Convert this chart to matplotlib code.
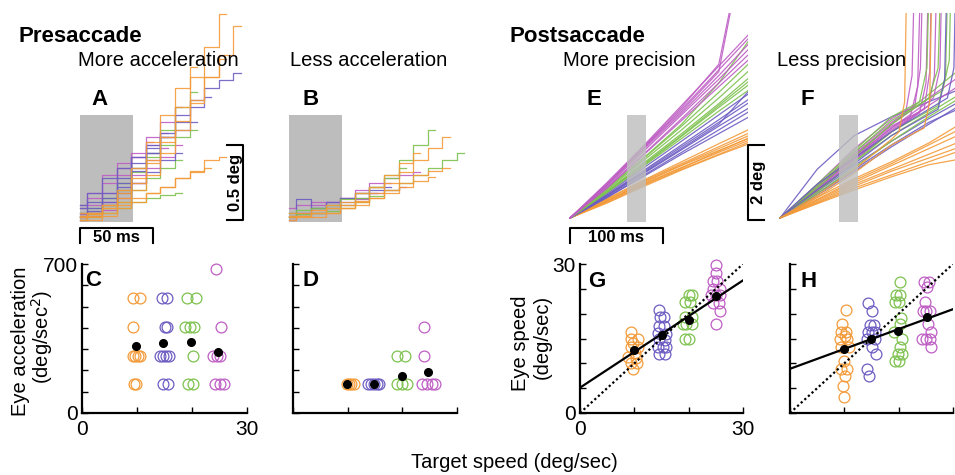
import matplotlib
matplotlib.use("Agg")
import matplotlib.pyplot as plt
from matplotlib.patches import Rectangle

plt.rcParams['font.family'] = ['Liberation Sans', 'DejaVu Sans']

ORANGE = '#F39B3A'
BLUE = '#6D5DC2'
GREEN = '#7DC14E'
PURPLE = '#BE5EC4'
COLS = [ORANGE, BLUE, GREEN, PURPLE]

# ---------------- eye position traces (deg) ----------------
# presaccade traces, one value every 10 ms from target motion onset
A_DT = 10
A_ORANGE = [
    [0.02, 0.03, 0.08, 0.15, 0.25, 0.38, 0.55, 0.75, 0.95, 1.15, 1.37],
    [0.00, 0.02, 0.05, 0.12, 0.20, 0.30, 0.45, 0.60, 0.78, 0.95, 1.10, 1.29],
    [0.05, 0.05, 0.10, 0.18, 0.28, 0.40, 0.52, 0.66, 0.80, 0.95, 1.07],
    [0.00, 0.00, 0.03, 0.08, 0.12, 0.18, 0.22, 0.28, 0.33, 0.40, 0.42],
    [0.03, 0.05, 0.08, 0.10, 0.15, 0.18, 0.22, 0.28, 0.32, 0.35],
    [0.02, 0.04, 0.10, 0.20, 0.35, 0.52, 0.70, 0.88, 1.02],
]
A_BLUE = [
    [0.05, 0.08, 0.15, 0.25, 0.35, 0.45, 0.58, 0.70, 0.80, 0.88, 0.93, 0.98],
    [0.02, 0.06, 0.12, 0.22, 0.33, 0.45, 0.55, 0.65, 0.75, 0.82],
    [0.08, 0.12, 0.18, 0.28, 0.38, 0.48, 0.55, 0.60, 0.65],
    [0.03, 0.05, 0.10, 0.18, 0.25, 0.32, 0.40, 0.45],
    [0.10, 0.18, 0.28, 0.35, 0.42, 0.50, 0.55],
]
A_GREEN = [
    [0.02, 0.04, 0.10, 0.20, 0.32, 0.45, 0.60, 0.75, 0.85],
    [0.00, 0.02, 0.05, 0.08, 0.12, 0.15, 0.17, 0.18],
    [0.05, 0.08, 0.15, 0.25, 0.35, 0.42, 0.50, 0.55, 0.60],
    [0.03, 0.05, 0.08, 0.12, 0.20, 0.28, 0.35, 0.40],
]
A_PURPLE = [
    [0.08, 0.15, 0.25, 0.35, 0.42, 0.50, 0.58],
    [0.04, 0.10, 0.18, 0.30, 0.42, 0.55, 0.65, 0.75],
    [0.02, 0.05, 0.12, 0.20, 0.30, 0.40, 0.48],
    [0.10, 0.18, 0.30, 0.38, 0.45, 0.52],
    [0.00, 0.03, 0.07, 0.15, 0.25, 0.35, 0.42, 0.50],
]

B_ORANGE = [
    [0.03, 0.03, 0.05, 0.05, 0.08, 0.12, 0.18, 0.25, 0.32, 0.40, 0.48, 0.55],
    [0.00, 0.02, 0.02, 0.05, 0.08, 0.10, 0.15, 0.18, 0.22, 0.26, 0.29],
    [0.05, 0.05, 0.07, 0.10, 0.12, 0.18, 0.22, 0.30, 0.38, 0.45],
    [0.02, 0.03, 0.05, 0.08, 0.10, 0.13, 0.15, 0.20, 0.25, 0.30, 0.33, 0.35],
]
B_BLUE = [
    [0.05, 0.14, 0.08, 0.12, 0.15, 0.18, 0.20, 0.22],
    [0.02, 0.05, 0.08, 0.10, 0.12, 0.15, 0.18],
]
B_GREEN = [
    [0.02, 0.04, 0.05, 0.08, 0.10, 0.15, 0.22, 0.30, 0.40, 0.50, 0.60],
    [0.03, 0.03, 0.05, 0.06, 0.08, 0.12, 0.16, 0.20, 0.25, 0.30, 0.35, 0.40, 0.45],
    [0.05, 0.07, 0.08, 0.10, 0.14, 0.18, 0.22, 0.28, 0.35],
]
B_PURPLE = [
    [0.03, 0.05, 0.10, 0.12, 0.15, 0.20, 0.25, 0.28, 0.30, 0.32],
    [0.08, 0.10, 0.12, 0.12, 0.15, 0.18, 0.22, 0.25],
    [0.00, 0.03, 0.05, 0.08, 0.10, 0.14, 0.18, 0.20, 0.22],
]

# postsaccade traces, values at E_T (ms)
E_T = [0, 40, 80, 120, 160, 200]
E_ORANGE = [
    [0, 0.45, 0.95, 1.40, 1.80, 2.20],
    [0, 0.50, 1.00, 1.45, 1.90, 2.35],
    [0, 0.42, 0.88, 1.30, 1.70, 2.10],
    [0, 0.48, 0.92, 1.35, 1.75, 2.15],
    [0, 0.52, 1.02, 1.50, 1.98, 2.45],
    [0, 0.40, 0.85, 1.28, 1.68, 2.05],
    [0, 0.46, 0.97, 1.42, 1.85, 2.28],
    [0, 0.44, 0.90, 1.33, 1.78, 2.22],
]
E_BLUE = [
    [0, 0.55, 1.15, 1.75, 2.35, 2.95],
    [0, 0.60, 1.25, 1.90, 2.55, 3.20],
    [0, 0.58, 1.20, 1.82, 2.45, 3.05],
    [0, 0.65, 1.35, 2.05, 2.75, 3.45],
    [0, 0.55, 1.12, 1.70, 2.25, 2.80],
    [0, 0.62, 1.28, 1.95, 2.62, 3.30],
    [0, 0.60, 1.22, 1.85, 2.50, 3.60],
]
E_GREEN = [
    [0, 0.70, 1.45, 2.20, 3.00, 3.80],
    [0, 0.75, 1.55, 2.35, 3.20, 4.10],
    [0, 0.68, 1.40, 2.12, 2.85, 3.55],
    [0, 0.78, 1.60, 2.45, 3.35, 4.30],
    [0, 0.72, 1.48, 2.25, 3.05, 3.90],
    [0, 0.70, 1.42, 2.18, 2.95, 3.70],
    [0, 0.80, 1.62, 2.50, 3.60, 5.00],
]
E_PURPLE = [
    [0, 0.85, 1.80, 2.75, 3.70, 4.70],
    [0, 0.90, 1.90, 2.90, 3.95, 5.00],
    [0, 0.80, 1.70, 2.60, 3.50, 4.40],
    [0, 0.95, 1.95, 3.00, 4.05, 5.10],
    [0, 0.88, 1.85, 2.80, 3.80, 4.85],
    [0, 0.82, 1.72, 2.65, 3.60, 4.55],
    [0, 0.90, 1.88, 2.85, 3.90, 9.00],
    [0, 0.92, 1.92, 2.95, 4.10, 9.00],
]

F_T = [0, 40, 80, 120, 160, 200]
F_ORANGE = [
    [0, 0.40, 0.80, 1.15, 1.50, 1.85],
    [0, 0.45, 0.90, 1.30, 1.70, 2.10],
    [0, 0.38, 0.75, 1.10, 1.42, 1.60],
    [0, 0.50, 1.00, 1.45, 1.95, 2.45],
    [0, 0.55, 1.05, 1.50, 2.00, 2.60],
    [0, 0.42, 0.85, 1.25, 1.60, 1.95],
    [0, 0.48, 0.95, 1.40, 1.85, 2.30],
]
F_BLUE = [
    [0, 1.30, 2.20, 2.70, 3.10, 3.50],
    [0, 0.60, 1.25, 1.90, 2.50, 3.10],
    [0, 0.70, 1.40, 2.05, 2.65, 3.20],
    [0, 0.65, 1.30, 1.95, 2.55, 3.00],
]
F_GREEN = [
    [0, 0.75, 1.50, 2.20, 2.80, 3.40],
    [0, 0.65, 1.35, 2.05, 2.70, 3.30],
    [0, 0.80, 1.65, 2.50, 3.30, 4.10],
]
F_PURPLE = [
    [0, 0.80, 1.70, 2.50, 3.20, 3.90],
    [0, 0.70, 1.55, 2.30, 3.00, 3.65],
]
# traces that end in a catch-up saccade: (colour, times, values)
F_SACC = [
    (PURPLE, [0, 40, 80, 120, 140, 148, 154], [0, 0.75, 1.65, 2.40, 2.70, 3.50, 9]),
    (PURPLE, [0, 40, 80, 120, 135, 142, 147], [0, 0.85, 1.75, 2.55, 2.80, 3.80, 9]),
    (PURPLE, [0, 40, 80, 120, 150, 157, 162], [0, 0.70, 1.55, 2.30, 2.80, 3.60, 9]),
    (PURPLE, [0, 40, 80, 120, 145, 151, 156], [0, 0.90, 1.85, 2.65, 3.00, 4.00, 9]),
    (PURPLE, [0, 40, 80, 120, 160, 166, 171], [0, 0.75, 1.60, 2.35, 3.00, 3.80, 9]),
    (PURPLE, [0, 40, 80, 120, 155, 161, 165], [0, 0.80, 1.70, 2.45, 2.90, 3.90, 9]),
    (PURPLE, [0, 40, 80, 120, 165, 172, 176], [0, 0.78, 1.62, 2.40, 3.20, 4.00, 9]),
    (GREEN, [0, 40, 80, 120, 160, 170, 176], [0, 0.80, 1.65, 2.50, 3.20, 4.00, 9]),
    (GREEN, [0, 40, 80, 120, 170, 178, 183], [0, 0.70, 1.50, 2.30, 3.00, 3.80, 9]),
    (GREEN, [0, 40, 80, 120, 175, 182, 186], [0, 0.85, 1.75, 2.60, 3.40, 4.20, 9]),
    (GREEN, [0, 40, 80, 120, 150, 158, 163], [0, 0.90, 1.80, 2.70, 3.10, 4.00, 9]),
    (BLUE, [0, 40, 80, 120, 180, 187, 191], [0, 0.90, 1.60, 2.30, 3.20, 4.00, 9]),
    (BLUE, [0, 40, 80, 120, 170, 177, 182], [0, 0.75, 1.45, 2.20, 2.90, 3.70, 9]),
    (ORANGE, [0, 40, 80, 120, 128, 134, 138], [0, 0.60, 1.30, 2.10, 2.30, 3.10, 9]),
    (ORANGE, [0, 40, 80, 120, 155, 161, 165], [0, 0.55, 1.20, 1.95, 2.40, 3.10, 9]),
]

# analysis windows (ms)
PRE_WIN = (0, 36)
POST_WIN_E = (61, 82)
POST_WIN_F = (63, 84)

# ---------------- scatter data ----------------
# C: eye acceleration (deg/sec^2) vs target speed (deg/sec)
C_X = [[9.3, 10.5, 9.3, 9.2, 9.7, 10.2, 10.6, 9.5, 9.9],
       [14.6, 15.4, 15.1, 15.4, 14.2, 14.8, 15.3, 15.9, 14.8, 15.7],
       [19.0, 20.7, 18.7, 19.6, 20.4, 20.1, 19.3, 20.2],
       [24.4, 25.2, 23.9, 24.5, 25.0, 24.2, 25.1, 25.8]]
C_Y = [[540, 540, 405, 270, 270, 270, 270, 135, 135],
       [540, 540, 405, 405, 270, 270, 270, 270, 135, 135],
       [540, 540, 405, 405, 405, 270, 135, 135],
       [675, 405, 270, 270, 270, 135, 135, 135]]
C_MEAN_X = [9.9, 14.8, 19.9, 24.7]
C_MEAN_Y = [315, 327, 332, 285]

D_X = [[9.8, 10.2, 10.6, 11.1],
       [13.8, 14.3, 14.8, 15.3, 15.8],
       [19.0, 20.5, 19.0, 19.9, 20.9],
       [24.0, 24.0, 23.6, 24.5, 25.4, 26.0]]
D_Y = [[135, 135, 135, 135],
       [135, 135, 135, 135, 135],
       [270, 270, 135, 135, 135],
       [405, 270, 135, 135, 135, 135]]
D_MEAN_X = [9.9, 14.8, 19.9, 24.7]
D_MEAN_Y = [135, 135, 174, 193]

# G / H: eye speed (deg/sec) vs target speed (deg/sec)
G_X = [[9.3, 9.3, 10.6, 9.3, 10.6, 10.1, 8.8, 9.4, 10.5, 9.8, 10.3, 9.8],
       [14.6, 14.8, 15.5, 14.6, 15.4, 14.3, 15.8, 14.6, 15.6, 14.3, 15.2, 15.9, 14.6, 15.6],
       [20.0, 20.7, 19.4, 20.2, 19.3, 20.7, 19.0, 19.6, 20.6, 19.4, 20.1],
       [25.0, 25.0, 24.4, 25.3, 24.5, 25.7, 24.2, 25.0, 25.8, 24.5, 25.6, 25.8, 25.0]]
G_Y = [[16.3, 14.8, 14.8, 13.3, 13.3, 12.0, 11.3, 10.1, 10.1, 8.9, 11.0, 14.0],
       [20.7, 19.4, 19.4, 17.6, 17.6, 16.2, 16.0, 14.8, 14.6, 13.3, 13.3, 13.3, 11.8, 11.8],
       [23.7, 23.7, 22.3, 22.3, 19.4, 19.4, 17.9, 17.9, 17.9, 14.8, 14.8],
       [29.7, 28.2, 26.6, 26.6, 24.9, 24.9, 23.7, 23.7, 23.7, 22.1, 22.1, 20.5, 17.9]]
G_MEAN_X = [10, 15, 20, 25]
G_MEAN_Y = [12.6, 15.7, 18.8, 23.6]
G_FIT = (5.1, 0.72)   # intercept, slope

H_X = [[10.3, 9.5, 9.4, 10.3, 9.2, 10.5, 9.3, 10.8, 10.0, 9.4, 10.5, 10.1, 9.7, 10.0, 10.2],
       [14.4, 15.0, 14.7, 15.5, 14.3, 15.0, 15.7, 14.2, 15.6, 15.0, 15.8, 14.2, 14.6],
       [20.3, 19.6, 20.3, 19.3, 20.0, 20.5, 20.3, 19.2, 20.7, 20.2, 19.8, 20.6, 19.3, 20.0],
       [24.6, 25.5, 25.2, 24.9, 24.4, 25.1, 25.7, 25.4, 25.9, 24.3, 25.0, 25.7, 25.9]]
H_Y = [[20.7, 17.9, 16.3, 16.3, 14.8, 14.8, 13.3, 13.3, 10.4, 8.9, 8.9, 7.4, 5.4, 3.3, 15.6],
       [22.1, 20.5, 17.8, 17.8, 16.3, 16.3, 16.3, 14.8, 14.8, 13.3, 11.8, 8.9, 7.4],
       [26.4, 23.7, 23.7, 22.3, 22.3, 19.2, 17.9, 16.3, 14.8, 13.3, 11.8, 11.8, 10.4, 10.4],
       [26.4, 26.4, 25.3, 22.3, 20.5, 20.5, 20.5, 17.9, 16.3, 14.8, 14.8, 14.8, 13.3]]
H_MEAN_X = [10, 14.9, 19.95, 25.2]
H_MEAN_Y = [12.9, 14.9, 16.5, 19.4]
H_FIT = (8.9, 0.40)

# ---------------- layout helpers (pixels) ----------------
W, H = 955, 475
fig = plt.figure(figsize=(W / 100, H / 100), dpi=100)


def px_axes(left, top, right, bottom):
    return fig.add_axes([left / W, 1 - bottom / H, (right - left) / W, (bottom - top) / H])


def trace_axes(left, top, right, bottom, x0, y0, sx, sy):
    # x0, y0: pixel of (t=0, pos=0); sx px per ms, sy px per deg
    ax = px_axes(left, top, right, bottom)
    ax.set_xlim((left - x0) / sx, (right - x0) / sx)
    ax.set_ylim((y0 - bottom) / sy, (y0 - top) / sy)
    ax.axis('off')
    return ax


def ftext(x, y, s, **kw):
    fig.text(x / W, 1 - y / H, s, **kw)


LW = 0.9
AL = 0.9


def draw_steps(ax, groups):
    for col, traces in groups:
        for tr in traces:
            t = [i * A_DT for i in range(len(tr))]
            ax.plot(t, tr, color=col, lw=LW, alpha=AL, drawstyle='steps-mid', zorder=2)


def draw_lines(ax, times, groups):
    for col, traces in groups:
        for tr in traces:
            ax.plot(times, tr, color=col, lw=LW, alpha=AL, zorder=2)


# ---- A ----
axA = trace_axes(70, 5, 262, 250, 80, 220, 1.46, 150)
axA.add_patch(Rectangle((PRE_WIN[0], -0.013), PRE_WIN[1] - PRE_WIN[0], 0.713,
                        color='#BDBDBD', lw=0, zorder=1))
draw_steps(axA, [(PURPLE, A_PURPLE), (GREEN, A_GREEN), (BLUE, A_BLUE), (ORANGE, A_ORANGE)])
axA.plot([0, 0, 50, 50], [-0.153, -0.053, -0.053, -0.153], color='k', lw=1.5, clip_on=False)
axA.text(25, -0.147, '50 ms', ha='center', va='baseline', fontsize=12, fontweight='bold')
axA.plot([100.7, 111.6, 111.6, 100.7], [0.5, 0.5, 0, 0], color='k', lw=1.5, clip_on=False)
axA.text(106.5, 0.25, '0.5 deg', rotation=90, ha='center', va='center', fontsize=12,
         fontweight='bold')

# ---- B ----
axB = trace_axes(279, 5, 480, 250, 289, 220, 1.46, 150)
axB.add_patch(Rectangle((PRE_WIN[0], -0.013), PRE_WIN[1] - PRE_WIN[0], 0.713,
                        color='#BDBDBD', lw=0, zorder=1))
draw_steps(axB, [(PURPLE, B_PURPLE), (BLUE, B_BLUE), (GREEN, B_GREEN), (ORANGE, B_ORANGE)])

# ---- E ----
axE = trace_axes(560, 13, 748, 250, 570, 218, 0.93, 37.5)
draw_lines(axE, E_T, [(ORANGE, E_ORANGE), (BLUE, E_BLUE), (GREEN, E_GREEN), (PURPLE, E_PURPLE)])
axE.add_patch(Rectangle((POST_WIN_E[0], -0.107), POST_WIN_E[1] - POST_WIN_E[0], 2.85,
                        color='#BDBDBD', alpha=0.8, lw=0, zorder=3))
axE.plot([0, 0, 100, 100], [-0.667, -0.267, -0.267, -0.667], color='k', lw=1.5, clip_on=False)
axE.text(50, -0.64, '100 ms', ha='center', va='baseline', fontsize=12, fontweight='bold')
axE.plot([208.6, 191.4, 191.4, 208.6], [1.95, 1.95, -0.05, -0.05], color='k', lw=1.5,
         clip_on=False)
axE.text(203, 0.96, '2 deg', rotation=90, ha='center', va='center', fontsize=12,
         fontweight='bold', clip_on=False)

# ---- F ----
axF = trace_axes(770, 13, 955, 250, 780, 218, 0.93, 37.5)
draw_lines(axF, F_T, [(ORANGE, F_ORANGE), (BLUE, F_BLUE), (GREEN, F_GREEN), (PURPLE, F_PURPLE)])
for col, tt, vv in F_SACC:
    axF.plot(tt, vv, color=col, lw=LW, alpha=AL, zorder=2)
axF.add_patch(Rectangle((POST_WIN_F[0], -0.107), POST_WIN_F[1] - POST_WIN_F[0], 2.85,
                        color='#BDBDBD', alpha=0.8, lw=0, zorder=3))


# ---- scatter panels ----
def scatter_axes(left, right, ymax, ystep, xs, ys, mx, my, fit=None, ylabels=None,
                 xlabels=None):
    ax = px_axes(left, 264, right, 413)
    ax.set_xlim(0, 30)
    ax.set_ylim(0, ymax)
    for sp in ['top', 'right']:
        ax.spines[sp].set_visible(False)
    for sp in ['left', 'bottom']:
        ax.spines[sp].set_linewidth(1.6)
    ax.set_yticks(list(range(0, ymax + 1, ystep)))
    ax.set_xticks([0, 10, 20, 30])
    ax.tick_params(direction='in', length=4, width=1, labelsize=15, pad=3)
    ax.tick_params(axis='x', pad=5)
    if ylabels:
        ax.set_yticklabels([str(v) if v in (0, ymax) else '' for v in ax.get_yticks()])
    else:
        ax.set_yticklabels([])
    if xlabels:
        ax.set_xticklabels(['0', '', '', '30'])
    else:
        ax.set_xticklabels([])
    for col, x, y in zip(COLS, xs, ys):
        ax.plot(x, y, 'o', mfc='none', mec=col, ms=7.8, mew=0.9, clip_on=False, zorder=2)
    if fit is not None:
        ax.plot([0, 30], [0, 30], color='k', ls=(0, (1, 1.2)), lw=1.6, zorder=3)
        b, m = fit
        ax.plot([0, 30], [b, b + m * 30], color='k', lw=1.6, zorder=3)
    ax.plot(mx, my, 'o', color='k', ms=5.5, zorder=4, clip_on=False)
    return ax


scatter_axes(82, 247, 700, 100, C_X, C_Y, C_MEAN_X, C_MEAN_Y, ylabels=True, xlabels=True)
scatter_axes(293, 457, 700, 100, D_X, D_Y, D_MEAN_X, D_MEAN_Y)
scatter_axes(580, 743, 30, 5, G_X, G_Y, G_MEAN_X, G_MEAN_Y, fit=G_FIT, ylabels=True,
             xlabels=True)
scatter_axes(790, 953, 30, 5, H_X, H_Y, H_MEAN_X, H_MEAN_Y, fit=H_FIT)

# ---- texts ----
ftext(19, 42, 'Presaccade', fontsize=16, fontweight='bold', va='baseline')
ftext(509, 42, 'Postsaccade', fontsize=16, fontweight='bold', va='baseline')
ftext(78, 66, 'More acceleration', fontsize=14.5, va='baseline')
ftext(290, 66, 'Less acceleration', fontsize=14.5, va='baseline')
ftext(563, 66, 'More precision', fontsize=14.5, va='baseline')
ftext(777, 66, 'Less precision', fontsize=14.5, va='baseline')
for s, x, y in [('A', 91, 105), ('B', 302, 105), ('E', 587, 105), ('F', 800, 105),
                ('C', 85, 286), ('D', 302, 286), ('G', 588, 287), ('H', 800, 287)]:
    ftext(x, y, s, fontsize=16, fontweight='bold', va='baseline')

ftext(20, 341, 'Eye acceleration', fontsize=14.5, rotation=90, ha='center', va='center')
ftext(42, 337, '(deg/sec$^2$)', fontsize=14.5, rotation=90, ha='center', va='center')
ftext(521, 343, 'Eye speed', fontsize=14.5, rotation=90, ha='center', va='center')
ftext(542, 337, '(deg/sec)', fontsize=14.5, rotation=90, ha='center', va='center')
ftext(514, 463, 'Target speed (deg/sec)', fontsize=14.5, ha='center', va='center')

fig.savefig('out.png', dpi=100)
